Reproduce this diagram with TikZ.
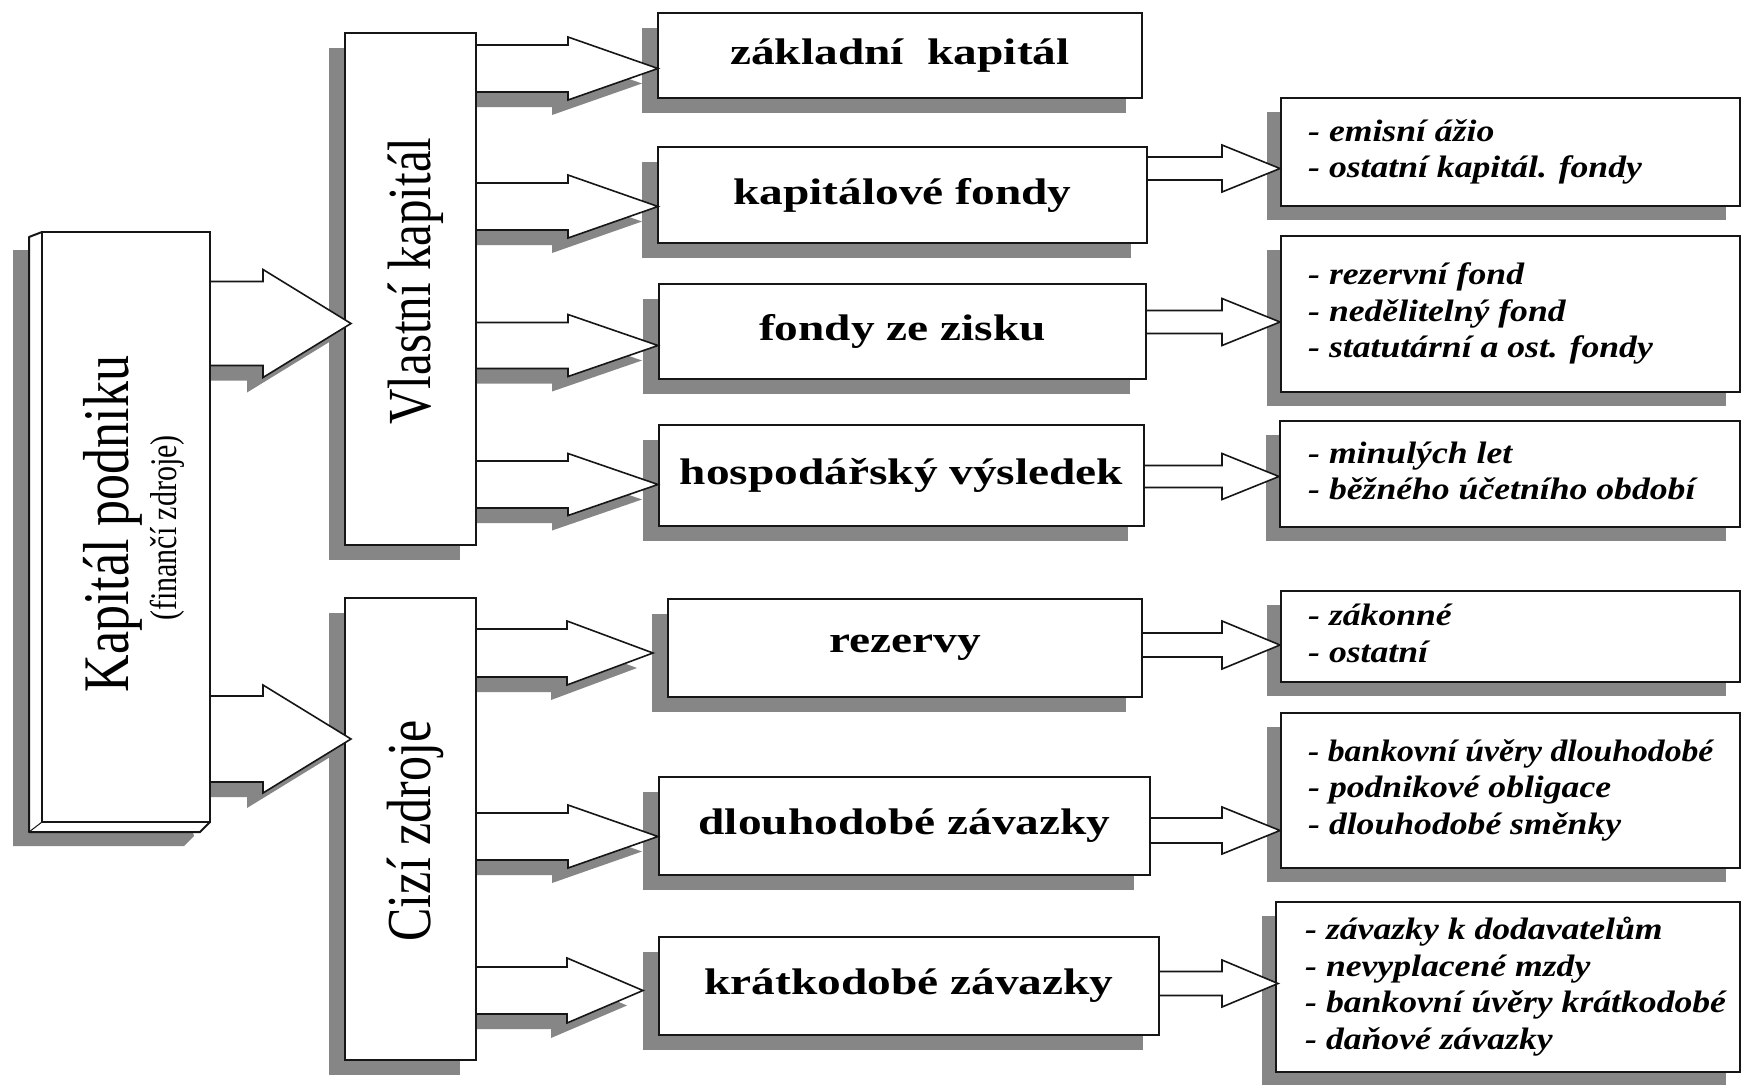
\documentclass[tikz,border=0pt]{standalone}
\usepackage{fontspec}
\setmainfont{Liberation Serif}
\usetikzlibrary{calc}
\pgfdeclarelayer{bg}
\pgfdeclarelayer{mid}
\pgfsetlayers{bg,mid,main}
\definecolor{shd}{RGB}{134,134,134}
\definecolor{ink}{RGB}{22,22,22}
\tikzset{
  box/.style={draw=ink, line width=2.4pt, fill=white, inner sep=0pt, outer sep=0pt},
  arrline/.style={draw=ink, line width=1.6pt, line join=miter},
  midtxt/.style={font=\fontsize{37}{40}\selectfont\bfseries, inner sep=0pt},
  rtxt/.style={font=\fontsize{31}{36.5}\selectfont\bfseries\itshape, inner sep=0pt},
  vtxt/.style={inner sep=0pt},
  noshd/.style={opacity=0},
}
% box from corners
\newcommand\mkbox[6][box]{\node[#1, minimum width={(#5-#3)*1pt}, minimum height={(#6-#4)*1pt}] (#2) at ({(#3+#5)/2},{(#4+#6)/2}) {};}
% rectangular shadow of a node
\newcommand\mkshadow[3]{\begin{pgfonlayer}{bg}\fill[shd] ([shift={(#2,#3)}]#1.north west) rectangle ([shift={(#2,#3)}]#1.south east);\end{pgfonlayer}}
% block arrow: src, tgt, ycenter, shaft half, head half, head base x, tip offset, line style, shadow style
\newcommand\barrow[9]{%
  \coordinate (s0) at (#1.east |- 0,#3);
  \coordinate (t0) at (#2.west |- 0,#3);
  \coordinate (q1) at ($(s0)+(1.2,-#4)$);
  \coordinate (q2) at (#6,{#3-#4});
  \coordinate (q3) at (#6,{#3-#5});
  \coordinate (q4) at ($(t0)+(#7,0)$);
  \coordinate (q5) at (#6,{#3+#5});
  \coordinate (q6) at (#6,{#3+#4});
  \coordinate (q7) at ($(s0)+(1.2,#4)$);
  \begin{pgfonlayer}{bg}
    \fill[#9] ([shift={(-16,15)}]q1) -- ([shift={(-16,15)}]q2) -- ([shift={(-16,15)}]q3) -- ([shift={(-16,15)}]q4) -- ([shift={(-16,15)}]q5) -- ([shift={(-16,15)}]q6) -- ([shift={(-16,15)}]q7) -- cycle;
  \end{pgfonlayer}
  \fill[white] (q1) -- (q2) -- (q3) -- (q4) -- (q5) -- (q6) -- (q7) -- cycle;
  \draw[#8] (q1) -- (q2) -- (q3) -- (q4) -- (q5) -- (q6) -- (q7);
}
\begin{document}
\begin{tikzpicture}[x=1pt,y=-1pt]
\begin{pgfonlayer}{bg}
\fill[white] (0,0) rectangle (1742,1084);
\end{pgfonlayer}
\useasboundingbox (0,0) rectangle (1742,1084);
\clip (0,0) rectangle (1742,1084);

% ---------- left: Kapitál podniku ----------
\mkbox{kp}{42}{232}{210}{822}
\begin{pgfonlayer}{bg}
  \fill[shd] ([shift={(-29,18)}]kp.north west) -- ([shift={(-13,18)}]kp.north west)
     -- ([shift={(-16,14)}]kp.south east) -- ([shift={(-26,24)}]kp.south east)
     -- ([shift={(-29,24)}]kp.south west) -- cycle;
\end{pgfonlayer}
\begin{pgfonlayer}{mid}
  \fill[white] (kp.north west) -- ([shift={(-13,5)}]kp.north west) -- ([shift={(-13,10)}]kp.south west)
     -- ([shift={(-10,10)}]kp.south east) -- (kp.south east) -- (kp.south west) -- cycle;
  \draw[ink, line width=2pt, line join=round] (kp.north west) -- ([shift={(-13,5)}]kp.north west) -- ([shift={(-13,10)}]kp.south west)
     -- ([shift={(-10,10)}]kp.south east) -- (kp.south east);
  \draw[ink, line width=1pt] (kp.south west) -- ([shift={(-13,10)}]kp.south west);
\end{pgfonlayer}
\node[vtxt, rotate=90, anchor=base] (kpT) at (128,524) {\scalebox{1}[1.25]{\fontsize{52}{52}\selectfont Kapitál podniku}};
\node[vtxt, rotate=90, anchor=base] (kpS) at (176,528) {\scalebox{1}[1.25]{\fontsize{30}{30}\selectfont (finančí zdroje)}};

% ---------- second column ----------
\mkbox{vk}{345}{33}{476}{545}   \mkshadow{vk}{-16}{15}
\mkbox{cz}{345}{598}{476}{1060} \mkshadow{cz}{-16}{15}
\node[vtxt, rotate=90, anchor=base] (vkT) at (430,281) {\scalebox{1}[1.25]{\fontsize{49}{49}\selectfont Vlastní kapitál}};
\node[vtxt, rotate=90, anchor=base] (czT) at (430,831) {\scalebox{1}[1.25]{\fontsize{50}{50}\selectfont Cizí zdroje}};

% ---------- middle column ----------
\mkbox{zk}{658}{13}{1142}{98}    \mkshadow{zk}{-16}{15}
\mkbox{kf}{658}{147}{1147}{243}  \mkshadow{kf}{-16}{15}
\mkbox{fz}{659}{284}{1146}{379}  \mkshadow{fz}{-16}{15}
\mkbox{hv}{659}{425}{1144}{526}  \mkshadow{hv}{-16}{15}
\mkbox{rz}{668}{599}{1142}{697}  \mkshadow{rz}{-16}{15}
\mkbox{dz}{659}{777}{1150}{875}  \mkshadow{dz}{-16}{15}
\mkbox{kz}{659}{937}{1159}{1035} \mkshadow{kz}{-16}{15}
\node[midtxt] (zkT) at (zk) {\scalebox{1.28}[1]{základní\ \ kapitál}};
\node[midtxt] (kfT) at (kf) {\scalebox{1.28}[1]{kapitálové fondy}};
\node[midtxt] (fzT) at (fz) {\scalebox{1.28}[1]{fondy ze zisku}};
\node[midtxt] (hvT) at (hv) {\scalebox{1.28}[1]{hospodářský výsledek}};
\node[midtxt] (rzT) at (rz) {\scalebox{1.28}[1]{rezervy}};
\node[midtxt] (dzT) at (dz) {\scalebox{1.28}[1]{dlouhodobé závazky}};
\node[midtxt] (kzT) at (kz) {\scalebox{1.28}[1]{krátkodobé závazky}};

% ---------- right column ----------
\mkbox{ra}{1281}{98}{1740}{206}  \mkshadow{ra}{-14}{14}
\mkbox{rb}{1281}{236}{1740}{392} \mkshadow{rb}{-14}{14}
\mkbox{rc}{1280}{421}{1740}{527} \mkshadow{rc}{-14}{14}
\mkbox{rd}{1281}{591}{1740}{682} \mkshadow{rd}{-14}{14}
\mkbox{re}{1281}{713}{1740}{868} \mkshadow{re}{-14}{14}
\mkbox{rf}{1276}{902}{1740}{1072} \mkshadow{rf}{-14}{14}
\node[rtxt, anchor=west] (raT) at ($(ra.west)+(27,0)$) {\scalebox{1.15}[1]{\begin{tabular}{@{}l@{}}- emisní ážio\\- ostatní kapitál. fondy\end{tabular}}};
\node[rtxt, anchor=west] (rbT) at ($(rb.west)+(27,0)$) {\scalebox{1.15}[1]{\begin{tabular}{@{}l@{}}- rezervní fond\\- nedělitelný fond\\- statutární a ost. fondy\end{tabular}}};
\node[rtxt, anchor=west] (rcT) at ($(rc.west)+(28,0)$) {\scalebox{1.15}[1]{\begin{tabular}{@{}l@{}}- minulých let\\- běžného účetního období\end{tabular}}};
\node[rtxt, anchor=west] (rdT) at ($(rd.west)+(27,0)$) {\scalebox{1.15}[1]{\begin{tabular}{@{}l@{}}- zákonné\\- ostatní\end{tabular}}};
\node[rtxt, anchor=west] (reT) at ($(re.west)+(27,0)$) {\scalebox{1.15}[1]{\begin{tabular}{@{}l@{}}\scalebox{0.945}[1]{- bankovní úvěry dlouhodobé}\\- podnikové obligace\\- dlouhodobé směnky\end{tabular}}};
\node[rtxt, anchor=west] (rfT) at ($(rf.west)+(29,0)$) {\scalebox{1.15}[1]{\begin{tabular}{@{}l@{}}- závazky k dodavatelům\\- nevyplacené mzdy\\- bankovní úvěry krátkodobé\\- daňové závazky\end{tabular}}};

% ---------- arrows ----------
\barrow{kp}{vk}{323.5}{42}{54}{263}{6}{arrline}{shd}
\barrow{kp}{cz}{739}{43}{54}{263}{6}{arrline}{shd}

\barrow{vk}{zk}{68.5}{23.5}{31.5}{568}{0}{arrline}{shd}
\barrow{vk}{kf}{206.5}{23.5}{31.5}{568}{0}{arrline}{shd}
\barrow{vk}{fz}{345.5}{23}{31}{568}{-1}{arrline}{shd}
\barrow{vk}{hv}{484.5}{23.5}{31}{568}{-1}{arrline}{shd}
\barrow{cz}{rz}{653}{24}{32}{567}{-15}{arrline}{shd}
\barrow{cz}{dz}{836.5}{23.5}{31.5}{568}{-1}{arrline}{shd}
\barrow{cz}{kz}{990.5}{23.5}{32.5}{567}{-16}{arrline}{shd}

\barrow{kf}{ra}{168.5}{11.5}{23.5}{1222}{-1}{arrline}{noshd}
\barrow{fz}{rb}{322}{11.5}{23.5}{1222}{-1}{arrline}{noshd}
\barrow{hv}{rc}{476.5}{11}{23}{1222}{-1}{arrline}{noshd}
\barrow{rz}{rd}{645}{12}{24}{1222}{-1}{arrline}{noshd}
\barrow{dz}{re}{830.5}{12.5}{23.5}{1222}{-1}{arrline}{noshd}
\barrow{kz}{rf}{983.5}{12}{23.5}{1222}{2}{arrline}{noshd}
\end{tikzpicture}
\end{document}
